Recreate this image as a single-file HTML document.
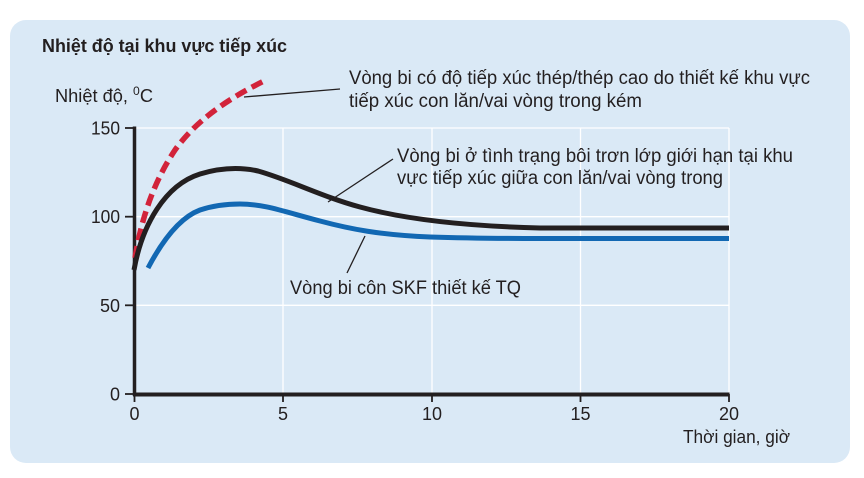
<!DOCTYPE html>
<html><head><meta charset="utf-8"><style>
html,body{margin:0;padding:0;background:#fff;}
svg{display:block;}
text{font-family:"Liberation Sans","DejaVu Sans",sans-serif;fill:#231f20;}
</style></head><body>
<svg width="864" height="478" viewBox="0 0 864 478" xmlns="http://www.w3.org/2000/svg">
<rect x="10" y="20" width="840" height="443" rx="16" ry="16" fill="#dae9f6"/>
<!-- gridlines -->
<g stroke="#ffffff" stroke-width="1.3" fill="none">
<line x1="134" y1="128" x2="729" y2="128"/>
<line x1="134" y1="216.7" x2="729" y2="216.7"/>
<line x1="134" y1="305.3" x2="729" y2="305.3"/>
<line x1="283" y1="128" x2="283" y2="394"/>
<line x1="432" y1="128" x2="432" y2="394"/>
<line x1="580.5" y1="128" x2="580.5" y2="394"/>
<line x1="729" y1="128" x2="729" y2="394"/>
</g>
<!-- axes -->
<g stroke="#231f20" fill="none">
<line x1="134.5" y1="126.5" x2="134.5" y2="396" stroke-width="3.5"/>
<line x1="133" y1="394.5" x2="729.5" y2="394.5" stroke-width="4"/>
<g stroke-width="1.8">
<line x1="125" y1="128" x2="134" y2="128"/>
<line x1="125" y1="216.7" x2="134" y2="216.7"/>
<line x1="125" y1="305.3" x2="134" y2="305.3"/>
<line x1="125" y1="394" x2="134" y2="394"/>
<line x1="134.5" y1="394" x2="134.5" y2="402"/>
<line x1="283" y1="394" x2="283" y2="402"/>
<line x1="432" y1="394" x2="432" y2="402"/>
<line x1="580.5" y1="394" x2="580.5" y2="402"/>
<line x1="729" y1="394" x2="729" y2="402"/>
</g>
</g>
<!-- series -->
<path d="M135,258 C142,215 155,180 175,150 C195,122 225,100 266,80" fill="none" stroke="#d2233a" stroke-width="5.5" stroke-dasharray="12,6"/>
<path d="M148,268 C158,249 176,219 200,210 C215,205 228,204 240,204 C265,204 285,212 320,221 C350,229 380,235 430,237 C470,238.3 500,238.5 540,238.5 L729,238.5" fill="none" stroke="#1268b3" stroke-width="5"/>
<path d="M134,270 C142,225 165,185 200,174 C220,168 240,167 258,171 C290,180 320,196 360,207 C400,218 460,226 540,228 L729,228" fill="none" stroke="#231f20" stroke-width="5"/>
<!-- leaders -->
<g stroke="#231f20" stroke-width="1.3" fill="none">
<line x1="244" y1="97" x2="340" y2="89"/>
<line x1="328" y1="202" x2="393" y2="159"/>
<line x1="365" y1="236" x2="347" y2="273"/>
</g>
<!-- text -->
<text x="42" y="52" font-size="18" font-weight="bold" textLength="245" lengthAdjust="spacingAndGlyphs">Nhiệt độ tại khu vực tiếp xúc</text>
<text x="55" y="102" font-size="18" textLength="98" lengthAdjust="spacingAndGlyphs">Nhiệt độ, <tspan font-size="12" dy="-7">0</tspan><tspan dy="7">C</tspan></text>
<g font-size="18" text-anchor="end">
<text x="120" y="134.5" textLength="29" lengthAdjust="spacingAndGlyphs">150</text>
<text x="120" y="223" textLength="29" lengthAdjust="spacingAndGlyphs">100</text>
<text x="120" y="312">50</text>
<text x="120" y="400.5">0</text>
</g>
<g font-size="18" text-anchor="middle">
<text x="134.5" y="420">0</text>
<text x="283" y="420">5</text>
<text x="432" y="420">10</text>
<text x="580.5" y="420">15</text>
<text x="729" y="420">20</text>
</g>
<text x="683" y="443" font-size="18" textLength="107" lengthAdjust="spacingAndGlyphs">Thời gian, giờ</text>
<g font-size="19">
<text x="349" y="84" textLength="461" lengthAdjust="spacingAndGlyphs">Vòng bi có độ tiếp xúc thép/thép cao do thiết kế khu vực</text>
<text x="349" y="107" textLength="293" lengthAdjust="spacingAndGlyphs">tiếp xúc con lăn/vai vòng trong kém</text>
<text x="397" y="162" textLength="396" lengthAdjust="spacingAndGlyphs">Vòng bi ở tình trạng bôi trơn lớp giới hạn tại khu</text>
<text x="397" y="184" textLength="326" lengthAdjust="spacingAndGlyphs">vực tiếp xúc giữa con lăn/vai vòng trong</text>
<text x="290" y="294" textLength="231" lengthAdjust="spacingAndGlyphs">Vòng bi côn SKF thiết kế TQ</text>
</g>
</svg>
</body></html>
